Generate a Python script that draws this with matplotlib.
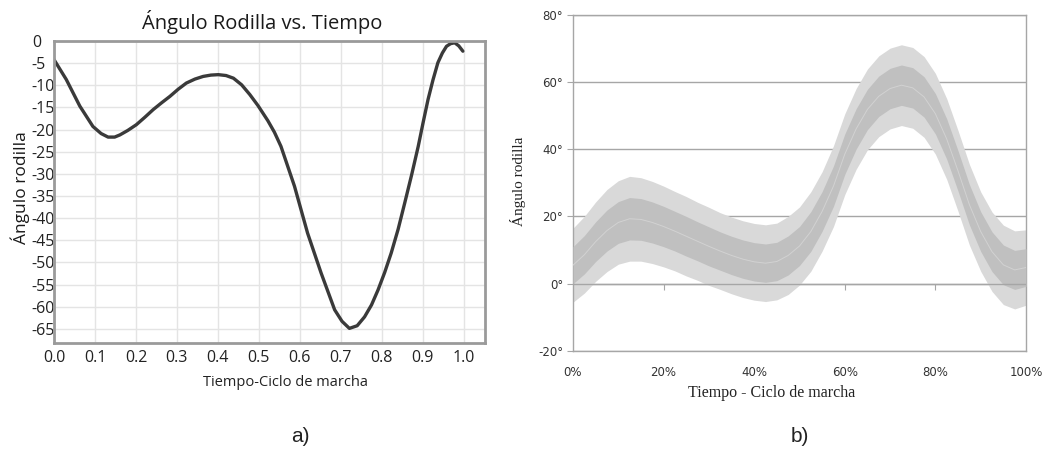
import numpy as np
import matplotlib.pyplot as plt
from matplotlib.ticker import FuncFormatter

# --- panel a) datos
t_a = [0.0, 0.03, 0.063, 0.095, 0.115, 0.132, 0.148, 0.161, 0.18, 0.201, 0.222,
       0.242, 0.262, 0.283, 0.303, 0.323, 0.344, 0.364, 0.383, 0.401, 0.42, 0.438,
       0.458, 0.478, 0.498, 0.522, 0.538, 0.554, 0.587, 0.619, 0.652, 0.685, 0.703,
       0.721, 0.74, 0.758, 0.775, 0.791, 0.807, 0.823, 0.84, 0.856, 0.873, 0.889,
       0.901, 0.913, 0.925, 0.937, 0.948, 0.958, 0.968, 0.978, 0.988, 0.998]
ang_a = [-4.2, -8.7, -14.7, -19.3, -20.9, -21.7, -21.7, -21.2, -20.2, -18.9, -17.2,
         -15.5, -14.0, -12.5, -10.9, -9.5, -8.6, -8.0, -7.7, -7.6, -7.8, -8.4,
         -9.9, -12.1, -14.6, -18.0, -20.6, -23.8, -32.8, -43.4, -52.4, -60.7, -63.3,
         -64.9, -64.3, -62.3, -59.6, -56.2, -52.3, -47.9, -42.5, -36.6, -30.2, -23.8,
         -18.4, -13.2, -8.8, -4.9, -2.7, -1.2, -0.6, -0.4, -1.1, -2.3]

# --- panel b) media y desviacion
pct_b = [0, 2.5, 5, 7.5, 10, 12.5, 15, 17.5, 20, 22.5, 25, 27.5, 30, 32.5, 35,
         37.5, 40, 42.5, 45, 47.5, 50, 52.5, 55, 57.5, 60, 62.5, 65, 67.5, 70,
         72.5, 75, 77.5, 80, 82.5, 85, 87.5, 90, 92.5, 95, 97.5, 100]
media_b = [5.5, 8.6, 12.5, 15.8, 18.2, 19.3, 19.1, 18.2, 17.0, 15.6, 14.1, 12.6,
           11.1, 9.7, 8.4, 7.3, 6.5, 6.1, 6.6, 8.4, 11.2, 15.5, 21.5, 29.0, 38.5,
           46.0, 51.8, 55.7, 58.0, 59.0, 58.2, 55.5, 50.5, 43.0, 33.5, 23.5, 15.5,
           9.5, 5.6, 4.1, 4.8]
sd_b = [5.5, 5.7, 5.9, 6.1, 6.2, 6.3, 6.2, 6.1, 6.0, 5.9, 5.9, 5.8, 5.8, 5.7, 5.7,
        5.7, 5.7, 5.7, 5.7, 5.8, 5.8, 5.9, 5.9, 6.0, 6.0, 6.0, 6.0, 6.0, 6.0, 6.0,
        6.0, 6.0, 6.0, 6.0, 6.0, 6.0, 5.9, 5.9, 5.9, 5.8, 5.6]

W, H = 1044, 450
fig = plt.figure(figsize=(W / 100, H / 100), dpi=100)

# ---------------- a)
ax1 = fig.add_axes([54 / W, 1 - 343 / H, 431 / W, 302 / H])
ax1.plot(t_a, ang_a, color='#3a3a3a', lw=2.4, solid_capstyle='round',
         solid_joinstyle='round')
ax1.set_xlim(0, 1.052)
ax1.set_ylim(-68.2, 0)
ax1.set_xticks(np.arange(0, 1.01, 0.1))
ax1.set_yticks(np.arange(0, -66, -5))
ax1.xaxis.set_major_formatter(FuncFormatter(lambda v, p: '%.1f' % v))
ax1.yaxis.set_major_formatter(FuncFormatter(lambda v, p: '%d' % round(v)))
ax1.grid(True, color='#e4e4e4', lw=1)
ax1.tick_params(length=0, labelsize=11.5, labelcolor='#222222')
ax1.tick_params(axis='y', pad=16)
ax1.tick_params(axis='x', pad=5)
for lab in ax1.get_yticklabels():
    lab.set_horizontalalignment('left')
    lab.set_fontfamily('Open Sans')
for lab in ax1.get_xticklabels():
    lab.set_fontfamily('Open Sans')
for sp in ax1.spines.values():
    sp.set_color('#9a9a9a')
    sp.set_linewidth(2)

fig.text(262 / W, 1 - 22 / H, 'Ángulo Rodilla vs. Tiempo', ha='center', va='center',
         fontsize=14.5, family='Open Sans', color='#1a1a1a')
fig.text(285 / W, 1 - 382 / H, 'Tiempo-Ciclo de marcha', ha='center', va='center',
         fontsize=10.5, family='Open Sans', color='#222222')
fig.text(20 / W, 1 - 188 / H, 'Ángulo rodilla', ha='center', va='center', rotation=90,
         fontsize=12.5, family='Open Sans', color='#1a1a1a')

# ---------------- b)
ax2 = fig.add_axes([573 / W, 1 - 351 / H, 453 / W, 336.5 / H])
m = np.array(media_b)
s = np.array(sd_b)
ax2.fill_between(pct_b, m - 2 * s, m + 2 * s, color='#d9d9d9', lw=0, zorder=2)
ax2.fill_between(pct_b, m - s, m + s, color='#c0c0c0', lw=0, zorder=3)
ax2.plot(pct_b, media_b, color='#d2d2d2', lw=0.7, zorder=4)
ax2.set_xlim(0, 100)
ax2.set_ylim(-20, 80)
ax2.set_xticks(np.arange(0, 101, 20))
ax2.set_yticks(np.arange(-20, 81, 20))
ax2.xaxis.set_major_formatter(FuncFormatter(lambda v, p: '%d%%' % v))
ax2.yaxis.set_major_formatter(FuncFormatter(lambda v, p: '%d°' % v))
ax2.yaxis.grid(True, color='#a6a6a6', lw=1, zorder=1)
ax2.tick_params(axis='x', length=0, pad=11, labelsize=8.5, labelcolor='#333333')
ax2.tick_params(axis='y', length=4, color='#a6a6a6', pad=3, labelsize=8.5,
                labelcolor='#333333')
for sp in ax2.spines.values():
    sp.set_color('#a6a6a6')
    sp.set_linewidth(1)
ax2.axhline(0, color='#a6a6a6', lw=1, zorder=5)
sec = ax2.secondary_xaxis(0.2)
sec.set_xticks([20, 40, 60, 80])
sec.tick_params(length=4, color='#a6a6a6', labelbottom=False)
sec.spines['bottom'].set_visible(False)

fig.text(518 / W, 1 - 181 / H, 'Ángulo rodilla', ha='center', va='center', rotation=90,
         fontsize=11, family='Liberation Serif', color='#222222')
fig.text(772 / W, 1 - 393 / H, 'Tiempo - Ciclo de marcha', ha='center', va='center',
         fontsize=11.5, family='Liberation Serif', color='#222222')

fig.text(300 / W, 1 - 437 / H, 'a)', ha='center', va='center', fontsize=15,
         family='Liberation Sans', color='#222222')
fig.text(800 / W, 1 - 437 / H, 'b)', ha='center', va='center', fontsize=15,
         family='Liberation Sans', color='#222222')

fig.savefig('out.png', dpi=100)
